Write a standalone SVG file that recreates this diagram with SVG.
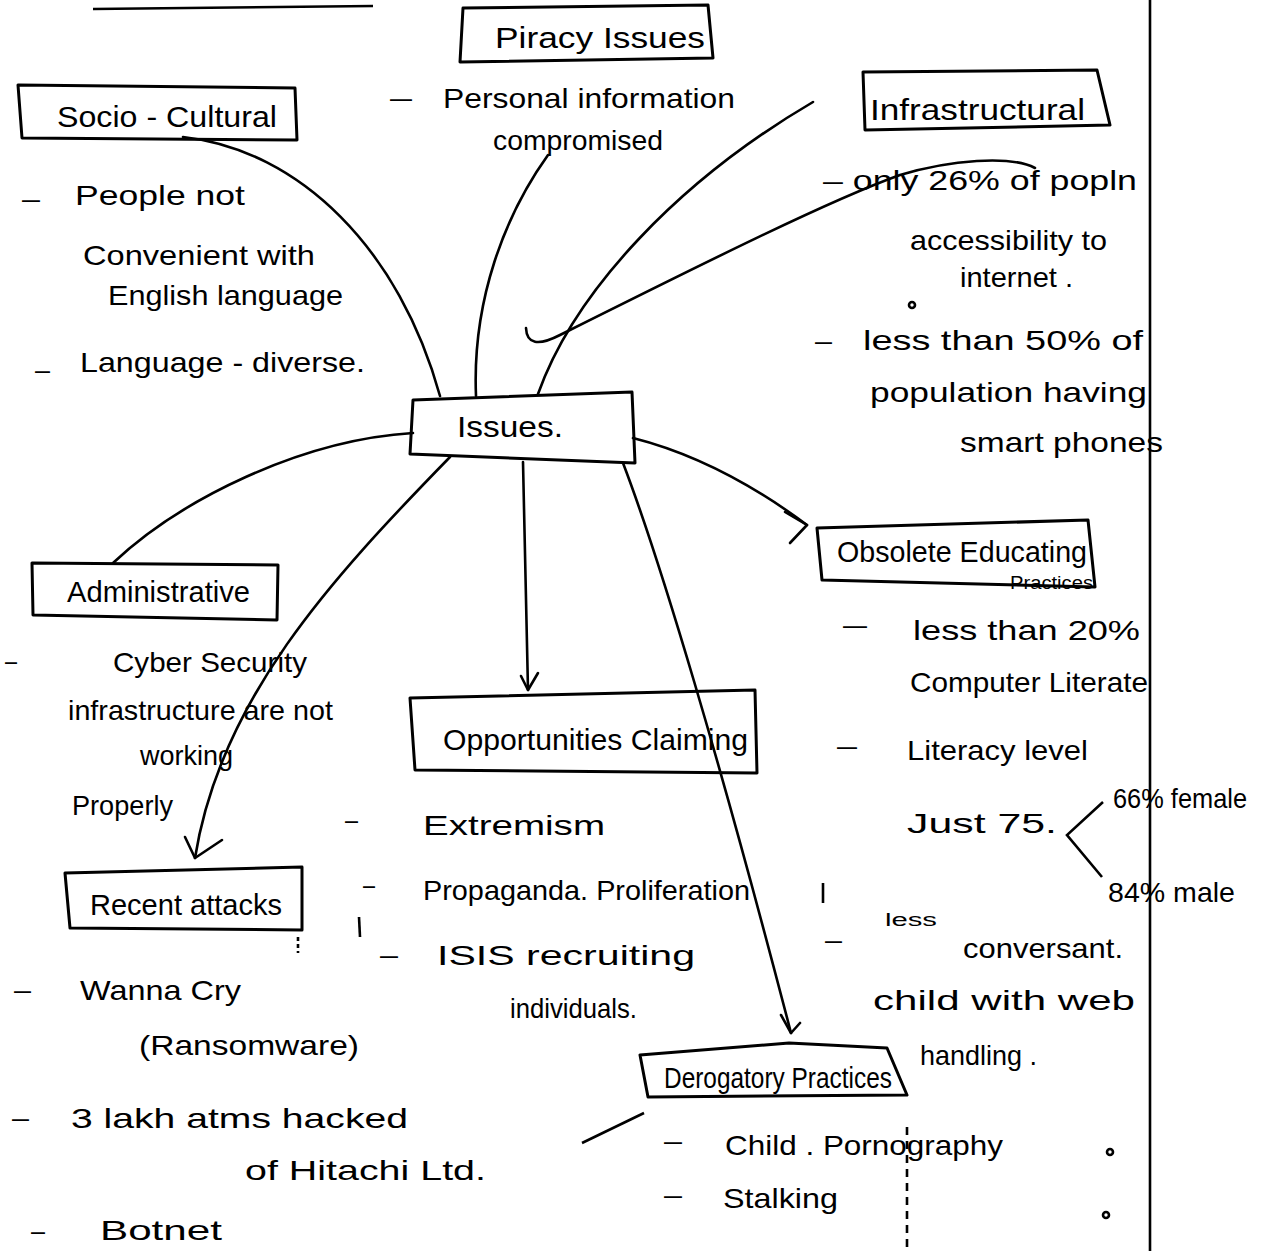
<svg xmlns="http://www.w3.org/2000/svg" width="1262" height="1251" viewBox="0 0 1262 1251">
<defs>
<style>
.bg{fill:#ffffff}
.box{fill:none;stroke:#000;stroke-width:3;stroke-linejoin:round}
.con{fill:none;stroke:#000;stroke-width:2.6;stroke-linecap:round;stroke-linejoin:round}
.rule{fill:none;stroke:#000;stroke-width:2.6}
.t{font-family:"Liberation Sans","DejaVu Sans",sans-serif;font-size:28px;fill:#000}
.h{font-family:"Liberation Sans","DejaVu Sans",sans-serif;font-size:29px;fill:#000}
.s{font-family:"Liberation Sans","DejaVu Sans",sans-serif;font-size:18px;fill:#000}
</style>
</defs>
<rect class="bg" x="0" y="0" width="1262" height="1251"/>

<!-- page rules and marks -->
<g id="page">
<path class="rule" d="M93 9 L373 6"/>
<path class="rule" d="M1150 0 L1150 1251"/>
<path class="rule" d="M907 1127 L907 1251" stroke-dasharray="8 6" stroke-width="2"/>
<path class="rule" d="M298 937 L298 953" stroke-dasharray="4 3" stroke-width="2"/>
<path class="rule" d="M359 917 L360 937" stroke-width="4"/>
<path class="rule" d="M823 883 L823 903" stroke-width="2"/>
<path class="rule" d="M582 1143 L644 1113" stroke-width="2"/>
<circle cx="912" cy="305" r="3" class="rule" stroke-width="2"/>
<circle cx="1110" cy="1152" r="3" class="rule" stroke-width="2"/>
<circle cx="1106" cy="1215" r="3" class="rule" stroke-width="2"/>
<path class="rule" d="M1103 802 L1067 835 L1102 877"/>
</g>

<g id="connectors">
<path class="con" d="M440 396 C400 250 300 150 183 137"/>
<path class="con" d="M476 396 C472 300 505 215 548 155"/>
<path class="con" d="M538 394 C575 290 680 180 813 102"/>
<path class="con" d="M526 328 Q527 352 560 335 C700 265 830 200 900 175 C950 160 1010 155 1035 168" stroke-width="3"/>
<path class="con" d="M413 433 C300 440 180 500 113 563"/>
<path class="con" d="M633 438 C700 455 760 490 807 525"/>
<path class="con" d="M785 512 L807 525 L790 543"/>
<path class="con" d="M523 462 L528 690"/>
<path class="con" d="M521 676 L528 690 L538 673"/>
<path class="con" d="M450 457 C330 580 220 700 195 858"/>
<path class="con" d="M185 837 L195 858 L222 840"/>
<path class="con" d="M623 463 C660 560 720 760 791 1033"/>
<path class="con" d="M781 1015 L791 1033 L800 1023"/>
</g>

<g id="node-issues">
<polygon class="box" points="413,400 632,392 635,463 410,454"/>
<text class="h" x="457" y="437" textLength="106" lengthAdjust="spacingAndGlyphs">Issues.</text>
</g>

<g id="node-socio">
<polygon class="box" points="18,85 295,88 297,140 22,138"/>
<text class="h" x="57" y="127" textLength="220" lengthAdjust="spacingAndGlyphs">Socio - Cultural</text>
<text class="t" x="22" y="208" textLength="18" lengthAdjust="spacingAndGlyphs">–</text>
<text class="t" x="75" y="205" textLength="170" lengthAdjust="spacingAndGlyphs">People not</text>
<text class="t" x="83" y="265" textLength="232" lengthAdjust="spacingAndGlyphs">Convenient with</text>
<text class="t" x="108" y="305" textLength="235" lengthAdjust="spacingAndGlyphs">English language</text>
<text class="t" x="35" y="379" textLength="15" lengthAdjust="spacingAndGlyphs">–</text>
<text class="t" x="80" y="372" textLength="285" lengthAdjust="spacingAndGlyphs">Language - diverse.</text>
</g>

<g id="node-piracy">
<polygon class="box" points="463,8 708,5 713,58 460,62"/>
<text class="h" x="495" y="48" textLength="210" lengthAdjust="spacingAndGlyphs">Piracy Issues</text>
<text class="t" x="390" y="107" textLength="22" lengthAdjust="spacingAndGlyphs">–</text>
<text class="t" x="443" y="108" textLength="292" lengthAdjust="spacingAndGlyphs">Personal information</text>
<text class="t" x="493" y="150" textLength="170" lengthAdjust="spacingAndGlyphs">compromised</text>
</g>

<g id="node-infrastructural">
<polygon class="box" points="863,72 1097,70 1110,125 865,130"/>
<text class="h" x="870" y="120" textLength="215" lengthAdjust="spacingAndGlyphs">Infrastructural</text>
<text class="t" x="823" y="190" textLength="314" lengthAdjust="spacingAndGlyphs">– only 26% of popln</text>
<text class="t" x="910" y="250" textLength="197" lengthAdjust="spacingAndGlyphs">accessibility to</text>
<text class="t" x="960" y="287" textLength="113" lengthAdjust="spacingAndGlyphs">internet .</text>
<text class="t" x="815" y="350" textLength="17" lengthAdjust="spacingAndGlyphs">–</text>
<text class="t" x="863" y="350" textLength="280" lengthAdjust="spacingAndGlyphs">less than 50% of</text>
<text class="t" x="870" y="402" textLength="277" lengthAdjust="spacingAndGlyphs">population having</text>
<text class="t" x="960" y="452" textLength="203" lengthAdjust="spacingAndGlyphs">smart phones</text>
</g>

<g id="node-administrative">
<polygon class="box" points="32,563 278,565 277,620 33,615"/>
<text class="h" x="67" y="602" textLength="183" lengthAdjust="spacingAndGlyphs">Administrative</text>
<text class="t" x="5" y="670" textLength="12" lengthAdjust="spacingAndGlyphs">–</text>
<text class="t" x="113" y="672" textLength="194" lengthAdjust="spacingAndGlyphs">Cyber Security</text>
<text class="t" x="68" y="720" textLength="265" lengthAdjust="spacingAndGlyphs">infrastructure are not</text>
<text class="t" x="140" y="765" textLength="93" lengthAdjust="spacingAndGlyphs">working</text>
<text class="t" x="72" y="815" textLength="101" lengthAdjust="spacingAndGlyphs">Properly</text>
</g>

<g id="node-recent-attacks">
<polygon class="box" points="65,873 302,867 302,930 70,928"/>
<text class="h" x="90" y="915" textLength="192" lengthAdjust="spacingAndGlyphs">Recent attacks</text>
<text class="t" x="14" y="999" textLength="17" lengthAdjust="spacingAndGlyphs">–</text>
<text class="t" x="80" y="1000" textLength="161" lengthAdjust="spacingAndGlyphs">Wanna Cry</text>
<text class="t" x="139" y="1055" textLength="220" lengthAdjust="spacingAndGlyphs">(Ransomware)</text>
<text class="t" x="12" y="1127" textLength="17" lengthAdjust="spacingAndGlyphs">–</text>
<text class="t" x="71" y="1128" textLength="337" lengthAdjust="spacingAndGlyphs">3 lakh atms hacked</text>
<text class="t" x="245" y="1180" textLength="241" lengthAdjust="spacingAndGlyphs">of Hitachi Ltd.</text>
<text class="t" x="31" y="1240" textLength="14" lengthAdjust="spacingAndGlyphs">–</text>
<text class="t" x="100" y="1240" textLength="122" lengthAdjust="spacingAndGlyphs">Botnet</text>
</g>

<g id="node-opportunities">
<polygon class="box" points="410,698 755,690 757,773 415,770"/>
<text class="h" x="443" y="750" textLength="305" lengthAdjust="spacingAndGlyphs">Opportunities Claiming</text>
<text class="t" x="345" y="829" textLength="13" lengthAdjust="spacingAndGlyphs">–</text>
<text class="t" x="423" y="835" textLength="182" lengthAdjust="spacingAndGlyphs">Extremism</text>
<text class="t" x="363" y="894" textLength="12" lengthAdjust="spacingAndGlyphs">–</text>
<text class="t" x="423" y="900" textLength="327" lengthAdjust="spacingAndGlyphs">Propaganda. Proliferation</text>
<text class="t" x="380" y="964" textLength="18" lengthAdjust="spacingAndGlyphs">–</text>
<text class="t" x="437" y="965" textLength="258" lengthAdjust="spacingAndGlyphs">ISIS recruiting</text>
<text class="t" x="510" y="1018" textLength="127" lengthAdjust="spacingAndGlyphs">individuals.</text>
</g>

<g id="node-obsolete">
<polygon class="box" points="817,528 1088,520 1095,587 822,580"/>
<text class="h" x="837" y="562" textLength="250" lengthAdjust="spacingAndGlyphs">Obsolete Educating</text>
<text class="s" x="1010" y="589" textLength="83" lengthAdjust="spacingAndGlyphs">Practices</text>
<text class="t" x="843" y="634" textLength="24" lengthAdjust="spacingAndGlyphs">–</text>
<text class="t" x="913" y="640" textLength="227" lengthAdjust="spacingAndGlyphs">less than 20%</text>
<text class="t" x="910" y="692" textLength="238" lengthAdjust="spacingAndGlyphs">Computer Literate</text>
<text class="t" x="837" y="755" textLength="20" lengthAdjust="spacingAndGlyphs">–</text>
<text class="t" x="907" y="760" textLength="181" lengthAdjust="spacingAndGlyphs">Literacy level</text>
<text class="t" x="907" y="833" textLength="150" lengthAdjust="spacingAndGlyphs">Just 75.</text>
<text class="t" x="1113" y="808" textLength="134" lengthAdjust="spacingAndGlyphs">66% female</text>
<text class="t" x="1108" y="902" textLength="127" lengthAdjust="spacingAndGlyphs">84% male</text>
<text class="t" x="825" y="949" textLength="17" lengthAdjust="spacingAndGlyphs">–</text>
<text class="s" x="885" y="926" textLength="52" lengthAdjust="spacingAndGlyphs">less</text>
<text class="t" x="963" y="958" textLength="160" lengthAdjust="spacingAndGlyphs">conversant.</text>
<text class="t" x="873" y="1010" textLength="262" lengthAdjust="spacingAndGlyphs">child with web</text>
<text class="t" x="920" y="1065" textLength="117" lengthAdjust="spacingAndGlyphs">handling .</text>
</g>

<g id="node-derogatory">
<polygon class="box" points="640,1055 789,1043 887,1048 907,1095 648,1097"/>
<text class="h" x="664" y="1088" textLength="228" lengthAdjust="spacingAndGlyphs">Derogatory Practices</text>
<text class="t" x="664" y="1150" textLength="18" lengthAdjust="spacingAndGlyphs">–</text>
<text class="t" x="725" y="1155" textLength="278" lengthAdjust="spacingAndGlyphs">Child . Pornography</text>
<text class="t" x="664" y="1204" textLength="18" lengthAdjust="spacingAndGlyphs">–</text>
<text class="t" x="723" y="1208" textLength="115" lengthAdjust="spacingAndGlyphs">Stalking</text>
</g>
</svg>
